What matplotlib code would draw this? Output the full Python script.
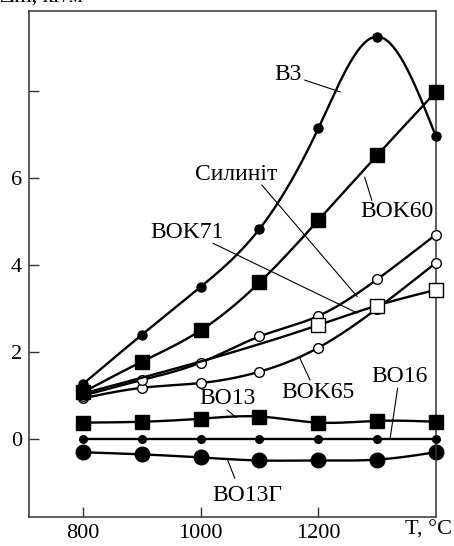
import numpy as np
import matplotlib
matplotlib.use("Agg")
import matplotlib.pyplot as plt

plt.rcParams['font.family'] = ['Liberation Serif', 'DejaVu Serif']

# temperatures, °C
T = [800, 900, 1000, 1100, 1200, 1300, 1400]
T_vok71 = [800, 1200, 1300, 1400]

# mass change
b3 = [1.27, 2.4, 3.5, 4.83, 7.14, 9.25, 6.96]
vok60 = [1.08, 1.78, 2.5, 3.6, 5.03, 6.52, 7.98]
sylinit = [1.0, 1.36, 1.76, 2.36, 2.83, 3.67, 4.7]
vok65 = [0.94, 1.18, 1.29, 1.55, 2.1, 3.0, 4.05]
vok71 = [1.05, 2.62, 3.07, 3.43]
vo13 = [0.38, 0.4, 0.47, 0.52, 0.38, 0.42, 0.4]
vo16 = [0.0, 0.0, 0.0, 0.0, 0.0, 0.0, 0.0]
vo13g = [-0.3, -0.35, -0.42, -0.49, -0.49, -0.47, -0.3]


def smooth(x, y, n=300):
    # natural cubic spline, only used to draw the curve between markers
    x = np.asarray(x, float)
    y = np.asarray(y, float)
    k = len(x)
    h = np.diff(x)
    A = np.zeros((k, k))
    r = np.zeros(k)
    A[0, 0] = A[-1, -1] = 1
    for i in range(1, k - 1):
        A[i, i - 1] = h[i - 1]
        A[i, i] = 2 * (h[i - 1] + h[i])
        A[i, i + 1] = h[i]
        r[i] = 6 * ((y[i + 1] - y[i]) / h[i] - (y[i] - y[i - 1]) / h[i - 1])
    M = np.linalg.solve(A, r)
    xs = np.linspace(x[0], x[-1], n)
    j = np.clip(np.searchsorted(x, xs) - 1, 0, k - 2)
    a = x[j + 1] - xs
    b = xs - x[j]
    hj = h[j]
    ys = (M[j] * a**3 + M[j + 1] * b**3) / (6 * hj) \
        + (y[j] / hj - M[j] * hj / 6) * a + (y[j + 1] / hj - M[j + 1] * hj / 6) * b
    return xs, ys


fig = plt.figure(figsize=(4.54, 5.46), dpi=100)
ax = fig.add_axes([0.064, 0.053, 0.896, 0.927])

lw = 1.7
series = [
    (T, vo13g, dict(marker='o', ms=10.5, mfc='black', mec='black')),
    (T, vo16, dict(marker='o', ms=5.5, mfc='black', mec='black')),
    (T, vo13, dict(marker='s', ms=10, mfc='black', mec='black')),
    (T, vok65, dict(marker='o', ms=7, mfc='white', mec='black', mew=1.0)),
    (T, sylinit, dict(marker='o', ms=7, mfc='white', mec='black', mew=1.0)),
    (T_vok71, vok71, dict(marker='s', ms=10, mfc='white', mec='black', mew=1.0, markevery=[1, 2, 3])),
    (T, vok60, dict(marker='s', ms=10, mfc='black', mec='black')),
    (T, b3, dict(marker='o', ms=6.5, mfc='black', mec='black')),
]
for z, (x, y, st) in enumerate(series):
    xs, ys = smooth(x, y)
    ax.plot(xs, ys, color='black', lw=lw, zorder=2 + z, clip_on=False)
    me = st.pop('markevery', None)
    if me is not None:
        x = [x[i] for i in me]
        y = [y[i] for i in me]
    ax.plot(x, y, ls='none', zorder=2.5 + z, clip_on=False, **st)

fs = 16
labels = [
    ('B3', (1148, 8.39), (1177, 8.25), (1237, 7.98)),
    ('Силиніт', (1060, 6.07), (1104, 5.84), (1266, 3.28)),
    ('BOK60', (1334, 5.24), (1291, 5.49), (1279, 6.02)),
    ('BOK71', (977, 4.76), (1021, 4.5), (1266, 2.9)),
    ('BOK65', (1199, 1.08), (1186, 1.36), (1169, 1.85)),
    ('BO16', (1339, 1.43), (1335, 1.17), (1322, 0.0)),
    ('BO13', (1046, 0.94), (1045, 0.67), (1060, 0.5)),
    ('BO13Г', (1080, -1.29), (1058, -0.9), (1045, -0.45)),
]
for txt, pos, p0, p1 in labels:
    ax.text(pos[0], pos[1], txt, fontsize=17, ha='center', va='center')
    ax.plot([p0[0], p1[0]], [p0[1], p1[1]], color='black', lw=0.8, zorder=1)

ax.set_xlim(708, 1400)
ax.set_ylim(-1.79, 9.84)
ax.set_xticks([800, 1000, 1200])
ax.set_yticks([0, 2, 4, 6, 8])
ax.set_yticklabels(['0', '2', '4', '6', ''])
ax.tick_params(direction='in', length=7, width=1.0, color='#333333',
               labelsize=fs, pad=5)
for s in ax.spines.values():
    s.set_linewidth(1.1)
    s.set_color('#333333')

# axis names: x at the end of the tick row, y above the plot (cut by the page edge)
fig.text(0.996, 0.029, 'T, °C', fontsize=fs, ha='right', va='center')
fig.text(0.0, 1.006, 'Δm, кг/м²', fontsize=fs, ha='left', va='center')

fig.savefig('out.png', dpi=100)
